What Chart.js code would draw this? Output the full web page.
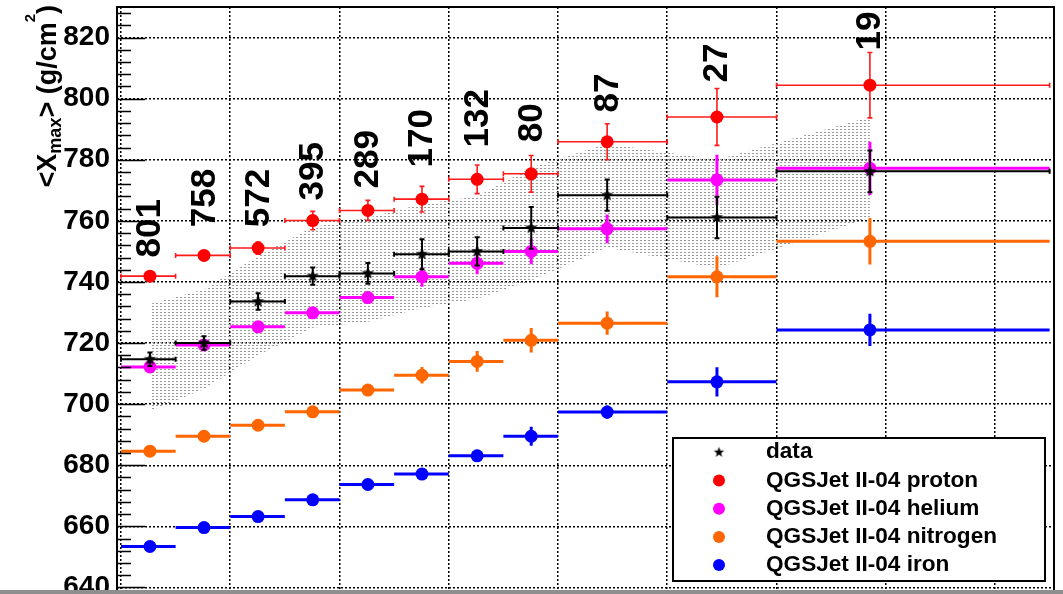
<!DOCTYPE html>
<html>
<head>
<meta charset="utf-8">
<script src="https://cdn.jsdelivr.net/npm/chart.js@4/dist/chart.umd.min.js"></script>
<style>
  html, body { margin: 0; padding: 0; background: #fff; overflow: hidden; }
  #wrap { position: relative; width: 1063px; height: 594px; overflow: hidden; }
  #chart { position: absolute; left: 0; top: 0; }
  #strip { position: absolute; left: 0; top: 590px; width: 1063px; height: 4px; background: #8e8e8e; }
</style>
</head>
<body>
<div id="wrap">
  <canvas id="chart" width="1063" height="602"></canvas>
  <div id="strip"></div>
</div>
<script>
// Energy bins in lg(E/eV): mean energy of each bin and its edges
const lgEnergy = [18.253, 18.352, 18.451, 18.551, 18.652, 18.751, 18.852, 18.951, 19.090, 19.291, 19.571];
const binLow   = [18.2, 18.3, 18.4, 18.5, 18.6, 18.7, 18.8, 18.9, 19.0, 19.2, 19.4];
const binHigh  = [18.3, 18.4, 18.5, 18.6, 18.7, 18.8, 18.9, 19.0, 19.2, 19.4, 19.9];
const eventCounts = [801, 758, 572, 395, 289, 170, 132, 80, 87, 27, 19];

// Measured <Xmax> with statistical errors (g/cm^2)
const dataXmax = [714.7, 720.0, 733.6, 741.9, 742.8, 749.1, 750.0, 757.7, 768.4, 761.1, 776.2];
const dataErr  = [2.2, 2.2, 2.7, 2.8, 3.4, 4.9, 4.6, 6.8, 5.1, 6.8, 6.8];
// Systematic band around the measurement
const sysHigh  = [732.8, 737.5, 748.5, 758.0, 761.0, 765.5, 768.0, 777.5, 785.2, 780.0, 794.0];
const sysLow   = [697.8, 705.0, 716.0, 725.0, 727.0, 731.5, 734.5, 740.5, 751.3, 744.5, 761.0];

// QGSJet II-04 simulations
const protonXmax   = [741.9, 748.7, 751.1, 760.1, 763.4, 767.1, 773.6, 775.4, 785.9, 794.0, 804.4];
const protonErr    = [1.2, 1.2, 2.0, 3.0, 3.3, 4.2, 4.7, 6.0, 5.9, 9.3, 10.7];
const heliumXmax   = [712.2, 719.4, 725.3, 729.9, 734.9, 741.7, 746.1, 750.0, 757.4, 773.4, 777.2];
const heliumErr    = [1.0, 1.2, 1.5, 1.8, 2.0, 3.3, 3.6, 4.2, 4.7, 8.2, 8.7];
const nitrogenXmax = [684.6, 689.5, 693.1, 697.5, 704.6, 709.5, 714.0, 720.9, 726.5, 741.7, 753.3];
const nitrogenErr  = [0.8, 1.0, 1.2, 1.3, 1.5, 2.7, 3.4, 4.0, 3.8, 6.7, 7.6];
const ironXmax     = [653.4, 659.6, 663.2, 668.7, 673.7, 677.1, 683.1, 689.5, 697.4, 707.3, 724.3];
const ironErr      = [0.6, 0.8, 0.9, 1.0, 1.2, 1.5, 2.0, 3.1, 2.2, 4.8, 5.3];

// Axis ticks
const yTickValues = [640, 660, 680, 700, 720, 740, 760, 780, 800, 820];
const xGridValues = [18.2, 18.4, 18.6, 18.8, 19.0, 19.2, 19.4, 19.6, 19.8];

const FONT = "'Liberation Sans', Arial, Helvetica, sans-serif";
Chart.defaults.font.family = FONT;

function points(ys) { return lgEnergy.map((x, i) => ({ x, y: ys[i] })); }

function makeStar(outer) {
  const size = Math.ceil(outer * 2 + 2);
  const c = document.createElement('canvas');
  c.width = size; c.height = size;
  const g = c.getContext('2d');
  const cx = size / 2, cy = size / 2, inner = outer * 0.42;
  g.beginPath();
  for (let k = 0; k < 10; k++) {
    const r = k % 2 === 0 ? outer : inner;
    const a = -Math.PI / 2 + k * Math.PI / 5;
    const px = cx + r * Math.cos(a), py = cy + r * Math.sin(a);
    if (k === 0) g.moveTo(px, py); else g.lineTo(px, py);
  }
  g.closePath();
  g.fillStyle = '#000';
  g.fill();
  return c;
}
const starMarker = makeStar(6.5);
const starLegend = makeStar(5.5);

function dotPattern() {
  const c = document.createElement('canvas');
  c.width = 4; c.height = 3;
  const g = c.getContext('2d');
  g.fillStyle = '#999999';
  g.fillRect(0, 0, 2, 1);
  return document.getElementById('chart').getContext('2d').createPattern(c, 'repeat');
}

// Horizontal bin-width bars and vertical error bars, drawn just under each series' markers
const errorBars = {
  id: 'errorBars',
  beforeDatasetDraw(chart, args) {
    const ds = chart.data.datasets[args.index];
    if (!ds.errY) return;
    const xs = chart.scales.x, ys = chart.scales.y, ctx = chart.ctx, a = chart.chartArea;
    ctx.save();
    ctx.beginPath();
    ctx.rect(a.left, a.top, a.right - a.left, a.bottom - a.top);
    ctx.clip();
    ctx.strokeStyle = ds.barColor;
    ctx.lineWidth = ds.barWidth;
    ctx.lineCap = 'butt';
    ds.data.forEach((p, i) => {
      const xl = xs.getPixelForValue(binLow[i]);
      const xr = xs.getPixelForValue(binHigh[i]);
      const xc = xs.getPixelForValue(p.x);
      const yc = ys.getPixelForValue(p.y);
      const yt = ys.getPixelForValue(p.y + ds.errY[i]);
      const yb = ys.getPixelForValue(p.y - ds.errY[i]);
      ctx.beginPath();
      ctx.moveTo(xl, yc); ctx.lineTo(xr, yc);
      ctx.moveTo(xc, yt); ctx.lineTo(xc, yb);
      if (ds.capSize) {
        const c = ds.capSize;
        ctx.moveTo(xl, yc - c); ctx.lineTo(xl, yc + c);
        ctx.moveTo(xr, yc - c); ctx.lineTo(xr, yc + c);
        ctx.moveTo(xc - c, yt); ctx.lineTo(xc + c, yt);
        ctx.moveTo(xc - c, yb); ctx.lineTo(xc + c, yb);
      }
      ctx.stroke();
    });
    ctx.restore();
  }
};

// Frame, inner y ticks, axis title, event counts and legend
const decorations = {
  id: 'decorations',
  afterDatasetsDraw(chart) {
    const ctx = chart.ctx, a = chart.chartArea, xs = chart.scales.x, ys = chart.scales.y;
    ctx.save();
    // event counts above each bin
    ctx.fillStyle = '#000';
    ctx.font = 'bold 35px ' + FONT;
    ctx.textAlign = 'left';
    ctx.textBaseline = 'alphabetic';
    const base = chart.options.plugins.decorations.countBase;
    eventCounts.forEach((n, i) => {
      const x = xs.getPixelForValue(lgEnergy[i]) - 2 + 12.5;
      const y = ys.getPixelForValue(base[i]);
      ctx.save();
      ctx.translate(x, y);
      ctx.rotate(-Math.PI / 2);
      ctx.fillText(String(n), 0, 0);
      ctx.restore();
    });
    // inner tick marks on the y axis
    ctx.strokeStyle = '#000';
    ctx.lineWidth = 1.6;
    ctx.beginPath();
    for (let v = 640; v <= 828; v += 4) {
      const y = Math.round(ys.getPixelForValue(v)) + 0.5;
      const len = (v % 20 === 0) ? 28 : 14;
      ctx.moveTo(a.left, y); ctx.lineTo(a.left + len, y);
    }
    ctx.stroke();
    // frame
    ctx.lineWidth = 2;
    ctx.beginPath();
    ctx.moveTo(a.left, a.bottom); ctx.lineTo(a.left, a.top);
    ctx.lineTo(a.right, a.top); ctx.lineTo(a.right, a.bottom);
    ctx.stroke();
    ctx.restore();
  },
  afterDraw(chart) {
    const ctx = chart.ctx;
    ctx.save();
    // y axis title <X_max> (g/cm^2), reading upwards, right-aligned to the top
    const parts = [
      { t: '<X', size: 27, dy: 0 },
      { t: 'max', size: 18, dy: 5 },
      { t: '> (g/cm', size: 27, dy: 0 },
      { t: '2', size: 15, dy: -21 },
      { t: ')', size: 27, dy: 0 }
    ];
    let total = 0;
    parts.forEach(p => { ctx.font = 'bold ' + p.size + 'px ' + FONT; p.w = ctx.measureText(p.t).width; total += p.w; });
    ctx.translate(56, 5);
    ctx.rotate(-Math.PI / 2);
    ctx.fillStyle = '#000';
    ctx.textAlign = 'left';
    ctx.textBaseline = 'alphabetic';
    let pos = -total;
    parts.forEach(p => {
      ctx.font = 'bold ' + p.size + 'px ' + FONT;
      ctx.fillText(p.t, pos, p.dy);
      pos += p.w;
    });
    ctx.restore();

    // legend
    const entries = chart.data.datasets.filter(d => d.legendText);
    ctx.save();
    ctx.fillStyle = '#fff';
    ctx.fillRect(673, 438, 372, 143);
    ctx.strokeStyle = '#000';
    ctx.lineWidth = 2;
    ctx.strokeRect(673, 438, 372, 143);
    ctx.font = 'bold 22.6px ' + FONT;
    ctx.textAlign = 'left';
    ctx.textBaseline = 'alphabetic';
    entries.forEach((d, k) => {
      const yb = 458.3 + k * 28.2;
      const ym = yb - 6;
      if (d.pointStyle === starMarker) {
        ctx.drawImage(starLegend, 719 - starLegend.width / 2, ym - starLegend.height / 2);
      } else {
        ctx.fillStyle = d.backgroundColor;
        ctx.beginPath();
        ctx.arc(719, ym, 6, 0, Math.PI * 2);
        ctx.fill();
      }
      ctx.fillStyle = '#000';
      ctx.fillText(d.legendText, 766, yb);
    });
    ctx.restore();
  }
};

const band = dotPattern();

new Chart(document.getElementById('chart'), {
  type: 'scatter',
  data: {
    datasets: [
      { legendText: 'data', data: points(dataXmax), errY: dataErr, barColor: '#000', barWidth: 2, capSize: 2.5,
        pointStyle: starMarker, pointRadius: 6, backgroundColor: '#000', borderWidth: 0 },
      { legendText: 'QGSJet II-04 proton', data: points(protonXmax), errY: protonErr, barColor: '#ff1a1a', barWidth: 1.6, capSize: 2.5,
        pointStyle: 'circle', pointRadius: 6.5, backgroundColor: '#ff0000', borderWidth: 0 },
      { legendText: 'QGSJet II-04 helium', data: points(heliumXmax), errY: heliumErr, barColor: '#ff00ff', barWidth: 3, capSize: 0,
        pointStyle: 'circle', pointRadius: 6.5, backgroundColor: '#ff00ff', borderWidth: 0 },
      { legendText: 'QGSJet II-04 nitrogen', data: points(nitrogenXmax), errY: nitrogenErr, barColor: '#ff6600', barWidth: 3, capSize: 0,
        pointStyle: 'circle', pointRadius: 6.5, backgroundColor: '#ff6600', borderWidth: 0 },
      { legendText: 'QGSJet II-04 iron', data: points(ironXmax), errY: ironErr, barColor: '#0000ff', barWidth: 3, capSize: 0,
        pointStyle: 'circle', pointRadius: 6.5, backgroundColor: '#0000ff', borderWidth: 0 },
      { data: points(sysHigh), showLine: true, fill: '+1', backgroundColor: band, borderColor: 'rgba(0,0,0,0)',
        borderWidth: 1, pointRadius: 0, tension: 0 },
      { data: points(sysLow), showLine: true, fill: false, borderColor: 'rgba(0,0,0,0)',
        borderWidth: 1, pointRadius: 0, tension: 0 }
    ]
  },
  options: {
    responsive: false,
    animation: false,
    devicePixelRatio: 1,
    events: [],
    layout: { padding: { top: 7, right: 9, left: 0, bottom: 0 } },
    plugins: {
      legend: { display: false },
      tooltip: { enabled: false },
      decorations: { countBase: [748.0, 757.9, 757.9, 766.7, 770.6, 777.5, 784.0, 785.7, 795.5, 805.3, 815.8] }
    },
    scales: {
      x: {
        type: 'linear', min: 18.1927, max: 19.908,
        afterBuildTicks: s => { s.ticks = xGridValues.map(v => ({ value: v })); },
        afterFit: s => { s.height = 0; s.paddingLeft = 0; s.paddingRight = 0; },
        ticks: { display: false },
        grid: { color: '#000', lineWidth: 1.5, drawTicks: false },
        border: { display: false, dash: [2, 2] }
      },
      y: {
        type: 'linear', min: 637.37, max: 830,
        afterBuildTicks: s => { s.ticks = yTickValues.map(v => ({ value: v })); },
        afterFit: s => { s.width = 117; s.paddingTop = 0; s.paddingBottom = 0; },
        ticks: { autoSkip: false, color: '#000', padding: 7, font: { size: 28, weight: 'bold' } },
        grid: { color: '#000', lineWidth: 1.5, drawTicks: false },
        border: { display: false, dash: [2, 2] }
      }
    }
  },
  plugins: [errorBars, decorations]
});
</script>
</body>
</html>
